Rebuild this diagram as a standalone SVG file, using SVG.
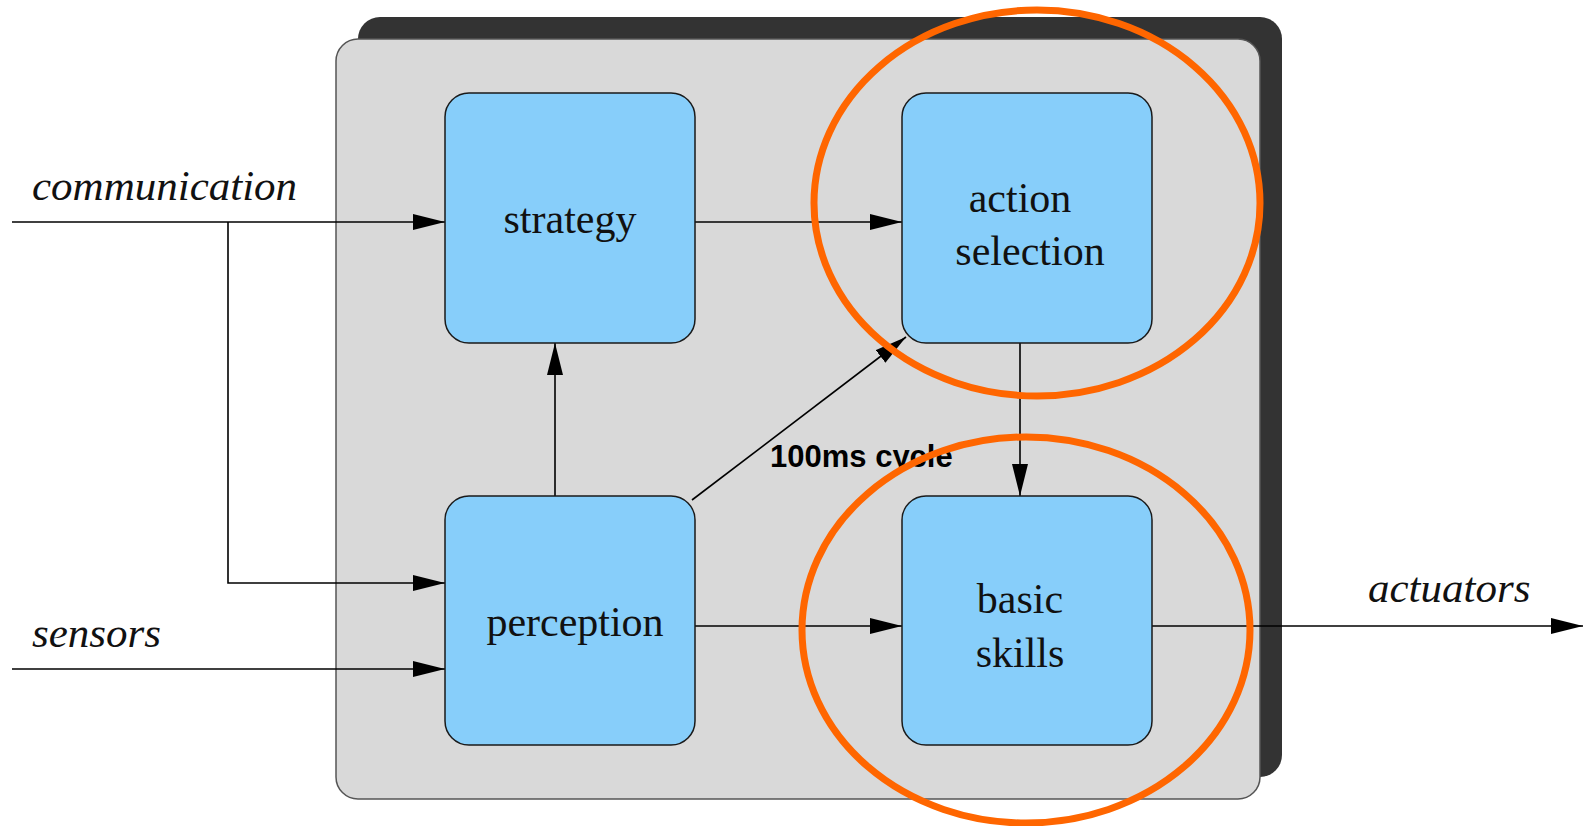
<svg xmlns="http://www.w3.org/2000/svg" width="1583" height="826" viewBox="0 0 1583 826">
  <style>
    .shadow { fill: #333333; }
    .panel { fill: #d9d9d9; stroke: #555555; stroke-width: 1.5; }
    .box { fill: #87cefa; stroke: #1a1a1a; stroke-width: 1.5; }
    .wire { fill: none; stroke: #000000; stroke-width: 1.6; }
    .label { font-family: "Liberation Serif", "Times New Roman", serif; font-size: 42px; fill: #111111; text-anchor: middle; }
    .io { font-family: "Liberation Serif", "Times New Roman", serif; font-size: 43px; font-style: italic; fill: #111111; }
    .note { font-family: "Liberation Sans", Arial, sans-serif; font-size: 31px; font-weight: bold; fill: #000000; }
    .ring { fill: none; stroke: #ff6600; stroke-width: 7; }
  </style>
  <defs>
    <marker id="head" markerUnits="userSpaceOnUse" markerWidth="32" markerHeight="16" refX="32" refY="8" orient="auto">
      <path d="M0,0 L32,8 L0,16 Z" fill="#000000"/>
    </marker>
  </defs>

  <rect width="1583" height="826" fill="#ffffff"/>

  <!-- container with drop shadow -->
  <g id="container">
    <rect class="shadow" x="358" y="17" width="924" height="760" rx="22" ry="22"/>
    <rect class="panel" x="336" y="39" width="924" height="760" rx="22" ry="22"/>
  </g>

  <!-- connectors -->
  <g id="connectors">
    <path class="wire" d="M12,222 L445,222" marker-end="url(#head)"/>
    <path class="wire" d="M228,222 L228,583 L445,583" marker-end="url(#head)"/>
    <path class="wire" d="M12,669 L445,669" marker-end="url(#head)"/>
    <path class="wire" d="M695,222 L902,222" marker-end="url(#head)"/>
    <path class="wire" d="M555,496 L555,343" marker-end="url(#head)"/>
    <path class="wire" d="M692,500 L906,337" marker-end="url(#head)"/>
    <path class="wire" d="M1020,343 L1020,496" marker-end="url(#head)"/>
    <path class="wire" d="M695,626 L902,626" marker-end="url(#head)"/>
    <path class="wire" d="M1152,626 L1583,626" marker-end="url(#head)"/>
  </g>

  <g id="strategy">
    <rect class="box" x="445" y="93" width="250" height="250" rx="24" ry="24"/>
    <text class="label" x="570" y="233">strategy</text>
  </g>

  <g id="action-selection">
    <rect class="box" x="902" y="93" width="250" height="250" rx="24" ry="24"/>
    <text class="label" x="1020" y="212">action</text>
    <text class="label" x="1030" y="265">selection</text>
  </g>

  <g id="perception">
    <rect class="box" x="445" y="496" width="250" height="249" rx="24" ry="24"/>
    <text class="label" x="575" y="636">perception</text>
  </g>

  <g id="basic-skills">
    <rect class="box" x="902" y="496" width="250" height="249" rx="24" ry="24"/>
    <text class="label" x="1020" y="613">basic</text>
    <text class="label" x="1020" y="667">skills</text>
  </g>

  <!-- external inputs and outputs -->
  <g id="io-labels">
    <text class="io" x="32" y="200">communication</text>
    <text class="io" x="32" y="647">sensors</text>
    <text class="io" x="1368" y="602">actuators</text>
  </g>

  <g id="cycle-note">
    <text class="note" x="770" y="467">100ms cycle</text>
  </g>

  <!-- highlight rings -->
  <g id="highlights">
    <ellipse class="ring" cx="1037" cy="203" rx="223" ry="193"/>
    <ellipse class="ring" cx="1026" cy="630" rx="224" ry="193"/>
  </g>
</svg>
